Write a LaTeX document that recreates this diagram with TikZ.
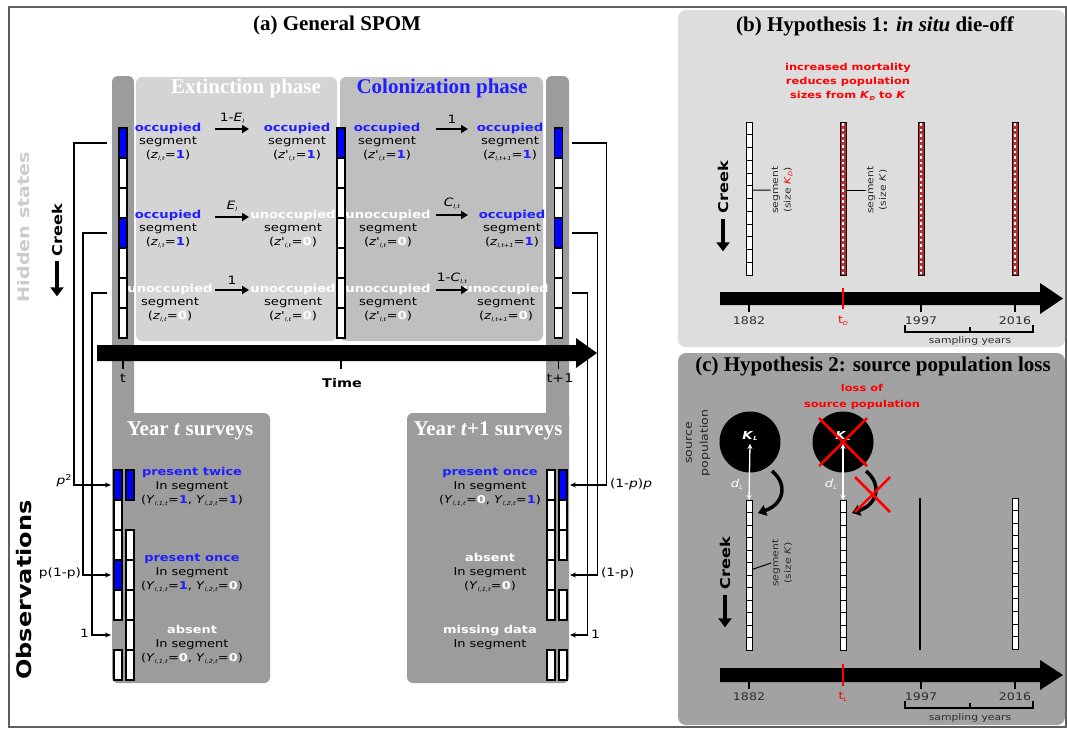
\documentclass[tikz,border=0pt]{standalone}
\usepackage{fontspec}
\setmainfont{Liberation Serif}
\newfontfamily\wsf[FakeStretch=1.2]{DejaVu Sans}
\usetikzlibrary{arrows.meta}
\definecolor{lgray}{RGB}{212,212,212}
\definecolor{mgray}{RGB}{191,191,191}
\definecolor{dgray}{RGB}{156,156,156}
\definecolor{pbgray}{RGB}{221,221,221}
\definecolor{pcgray}{RGB}{162,162,162}
\definecolor{hsgray}{RGB}{204,204,204}
\definecolor{myblue}{RGB}{30,30,255}
\definecolor{segred}{RGB}{185,45,45}
\definecolor{framegray}{RGB}{95,95,95}
\definecolor{txtgray}{RGB}{45,45,45}
\newcommand{\fsz}[1]{\fontsize{#1}{#1}\selectfont}
\newcommand{\subs}[1]{\raisebox{-1.8pt}{\fontsize{5.5}{5.5}\selectfont\textit{#1}}}
\newcommand{\vone}{\textcolor{myblue}{\textbf{1}}}
\newcommand{\vzero}{\textcolor{white}{\textbf{0}}}
\newcommand{\zlab}[3]{(\textit{z#1}\subs{#2}=#3)}
\newcommand{\ylab}[2]{\textit{Y}\subs{l,#1,t}=#2}
\newcommand{\occ}{\textcolor{myblue}{\textbf{occupied}}}
\newcommand{\unocc}{\textcolor{white}{\textbf{unoccupied}}}
\tikzset{
  every node/.style={inner sep=0pt, outer sep=0pt},
  ttl/.style={font=\bfseries\fsz{21}},
  stnode/.style={font=\wsf\fontsize{11}{13.5}\selectfont, align=center},
  obsnode/.style={font=\wsf\fontsize{10.8}{14}\selectfont, align=center},
  segbox/.style={draw, line width=1.1pt, minimum width=8pt, minimum height=30pt},
  smallseg/.style={draw, fill=white, line width=0.9pt, minimum width=6pt, minimum height=12.5pt},
  redcol/.style={draw, fill=segred, line width=0.9pt, minimum width=6pt, minimum height=153pt},
  tarrow/.style={line width=2.6pt, -{Triangle[length=7pt,width=8pt]}},
  arrlbl/.style={font=\wsf\fsz{11.5}},
  connarr/.style={line width=1.1pt, -{Stealth[length=6pt,width=5pt]}},
  plabel/.style={font=\wsf\fsz{11.5}},
  creek/.style={font=\wsf\bfseries\fsz{13.5}, rotate=90},
  creekarr/.style={line width=4.5pt, -{Triangle[length=9pt,width=13pt]}},
  axlbl/.style={font=\wsf\fsz{10.5}, text=txtgray},
  smalltxt/.style={font=\wsf\fontsize{9}{12.5}\selectfont, text=txtgray, align=center, rotate=90},
  redtxt/.style={font=\wsf\bfseries\fontsize{9.5}{14}\selectfont, text=red, align=center},
  curvarr/.style={line width=3.5pt, -{Triangle[length=8pt,width=11pt]}},
  tick/.style={line width=1.4pt},
}
\begin{document}
\begin{tikzpicture}[x=1pt,y=-1pt]
\useasboundingbox (0,0) rectangle (1067,729);
\fill[white] (0,0) rectangle (1067,729);
\draw[framegray, line width=1.5pt] (9,7) rectangle (1066,727);

% ---------------- panel a ----------------
\node[ttl] (ta) at (337,25) {(a) General SPOM};
\fill[dgray, rounded corners=6pt] (112,76) rectangle (134,430);
\fill[dgray, rounded corners=6pt] (112,413) rectangle (270,683);
\fill[dgray, rounded corners=6pt] (546,76) rectangle (569,430);
\fill[dgray, rounded corners=6pt] (407,413) rectangle (569,683);
\fill[lgray, rounded corners=6pt] (136,77) rectangle (337,341);
\fill[mgray, rounded corners=6pt] (340,77) rectangle (543,341);
\node[ttl, text=white] (tex) at (246,88) {Extinction phase};
\node[ttl, text=myblue] (tco) at (442,88) {Colonization phase};

\foreach \i/\f in {1/blue,2/white,3/white,4/blue,5/white,6/white,7/white}{
  \node[segbox, fill=\f] (ha\i) at (123,{113+30*\i}) {};
  \node[segbox, fill=\f] (hb\i) at (558.5,{113+30*\i}) {};
}
\foreach \i/\f in {1/blue,2/white,3/white,4/white,5/white,6/white,7/white}
  \node[segbox, fill=\f] (hm\i) at (341,{113+30*\i}) {};

% time axis
\fill (97,345) -- (576,345) -- (576,338) -- (597,353) -- (576,368) -- (576,361) -- (97,361) -- cycle;
\draw[tick] (123,361) -- (123,369);
\draw[tick] (341,361) -- (341,369);
\draw[tick] (558.5,361) -- (558.5,369);
\node[font=\wsf\fsz{12}] (lt) at (123,378) {t};
\node[font=\wsf\bfseries\fsz{12}] (ltime) at (342,383) {Time};
\node[font=\wsf\fsz{12}] (lt1) at (560,378) {t+1};

% states
\node[stnode] (ea1) at (168,142) {\occ\\segment\\\zlab{}{l,t}{\vone}};
\node[stnode] (eb1) at (297,142) {\occ\\segment\\\zlab{'}{l,t}{\vone}};
\node[stnode] (ca1) at (387,142) {\occ\\segment\\\zlab{'}{l,t}{\vone}};
\node[stnode] (cb1) at (510,142) {\occ\\segment\\\zlab{}{l,t+1}{\vone}};
\node[stnode] (ea2) at (168,229) {\occ\\segment\\\zlab{}{l,t}{\vone}};
\node[stnode] (eb2) at (293,229) {\unocc\\segment\\\zlab{'}{l,t}{\vzero}};
\node[stnode] (ca2) at (388,229) {\unocc\\segment\\\zlab{'}{l,t}{\vzero}};
\node[stnode] (cb2) at (512,229) {\occ\\segment\\\zlab{}{l,t+1}{\vone}};
\node[stnode] (ea3) at (170,303) {\unocc\\segment\\\zlab{}{l,t}{\vzero}};
\node[stnode] (eb3) at (293,303) {\unocc\\segment\\\zlab{'}{l,t}{\vzero}};
\node[stnode] (ca3) at (388,303) {\unocc\\segment\\\zlab{'}{l,t}{\vzero}};
\node[stnode] (cb3) at (506,303) {\unocc\\segment\\\zlab{}{l,t+1}{\vzero}};

\coordinate (x1s) at (215,129); \coordinate (x1e) at (249,129);
\coordinate (x2s) at (215,217); \coordinate (x2e) at (249,217);
\coordinate (x3s) at (215,290); \coordinate (x3e) at (249,290);
\coordinate (c1s) at (436,129); \coordinate (c1e) at (468,129);
\coordinate (c2s) at (436,215); \coordinate (c2e) at (468,215);
\coordinate (c3s) at (436,290); \coordinate (c3e) at (468,290);
\draw[tarrow] (x1s) -- (x1e) node[midway, above=6pt, arrlbl] (lx1) {1-\textit{E}\subs{l}};
\draw[tarrow] (x2s) -- (x2e) node[midway, above=6pt, arrlbl] (lx2) {\textit{E}\subs{l}};
\draw[tarrow] (x3s) -- (x3e) node[midway, above=6pt, arrlbl] (lx3) {1};
\draw[tarrow] (c1s) -- (c1e) node[midway, above=6pt, arrlbl] (lc1) {1};
\draw[tarrow] (c2s) -- (c2e) node[midway, above=6pt, arrlbl] (lc2) {\textit{C}\subs{l,t}};
\draw[tarrow] (c3s) -- (c3e) node[midway, above=6pt, arrlbl] (lc3) {1-\textit{C}\subs{l,t}};

% left labels
\node[font=\wsf\bfseries\fsz{16}, text=hsgray, rotate=90] (hs) at (24,227) {Hidden states};
\node[creek] (cra) at (57,230) {Creek};
\draw[creekarr] ([yshift=-5pt]cra.west) -- ([yshift=-40pt]cra.west);
\node[font=\wsf\bfseries\fsz{20}, rotate=90] (obs) at (24,590) {Observations};

% observations
\node[ttl, text=white] (yt) at (190,431) {Year \textit{t} surveys};
\node[ttl, text=white] (yt1) at (488,431) {Year \textit{t}+1 surveys};
\foreach \i/\f in {1/blue,2/white,3/white,4/blue,5/white,7/white}
  \node[segbox, fill=\f] (oa\i) at (118,{455+30*\i}) {};
\foreach \i/\f in {1/blue,3/white,4/white,5/white,6/white,7/white}
  \node[segbox, fill=\f] (ob\i) at (130,{455+30*\i}) {};
\foreach \i in {1,2,3,4,5,7}
  \node[segbox, fill=white] (oc\i) at (551,{455+30*\i}) {};
\foreach \i/\f in {1/blue,2/white,3/white,5/white,7/white}
  \node[segbox, fill=\f] (od\i) at (563,{455+30*\i}) {};

\node[obsnode] (o1) at (192,487) {\textcolor{myblue}{\textbf{present twice}}\\In segment\\(\ylab{1}{\vone}, \ylab{2}{\vone})};
\node[obsnode] (o2) at (192,573) {\textcolor{myblue}{\textbf{present once}}\\In segment\\(\ylab{1}{\vone}, \ylab{2}{\vzero})};
\node[obsnode] (o3) at (192,645) {\textcolor{white}{\textbf{absent}}\\In segment\\(\ylab{1}{\vzero}, \ylab{2}{\vzero})};
\node[obsnode] (o4) at (490,487) {\textcolor{myblue}{\textbf{present once}}\\In segment\\(\ylab{1}{\vzero}, \ylab{2}{\vone})};
\node[obsnode] (o5) at (490,573) {\textcolor{white}{\textbf{absent}}\\In segment\\(\ylab{1}{\vzero})};
\node[obsnode] (o6) at (490,638) {\textcolor{white}{\textbf{missing data}}\\In segment};

\coordinate (oa6w) at (114,635);
\coordinate (od4e) at (567,575);
\coordinate (od6e) at (567,635);
\draw[connarr, shorten >=3pt] ([xshift=-12pt]ha1.west) -- ++(-33,0) |- (oa1.west);
\draw[connarr, shorten >=3pt] ([xshift=-12pt]ha4.west) -- ++(-24,0) |- (oa4.west);
\draw[connarr, shorten >=3pt] ([xshift=-12pt]ha6.west) -- ++(-15,0) |- (oa6w);
\draw[connarr, shorten >=3pt] ([xshift=9pt]hb1.east) -- ++(35,0) |- (od1.east);
\draw[connarr, shorten >=3pt] ([xshift=9pt]hb4.east) -- ++(26,0) |- (od4e);
\draw[connarr, shorten >=3pt] ([xshift=9pt]hb6.east) -- ++(16,0) |- (od6e);

\node[plabel, anchor=east] (lp2) at (72,481) {\textit{p}\textsuperscript{2}};
\node[plabel, anchor=east] (lp1p) at (81,573) {p(1-p)};
\node[plabel, anchor=east] (l1a) at (89,633) {1};
\node[plabel, anchor=west] (l1pp) at (610,484) {(1-\textit{p})\textit{p}};
\node[plabel, anchor=west] (l1p) at (601,573) {(1-p)};
\node[plabel, anchor=west] (l1b) at (591,634) {1};

% ---------------- panel b ----------------
\fill[pbgray, rounded corners=8pt] (678,10) rectangle (1065,347);
\node[ttl] (tb) at (875,26) {(b) Hypothesis 1: \textit{in situ} die-off};
\node[redtxt] (rb) at (848,82) {increased mortality\\reduces population\\sizes from \textit{K}\subs{D} to \textit{K}};
\foreach \i in {1,...,12}
  \node[smallseg, minimum height=12.75pt] (bs\i) at (749,{122+12.75*(\i-0.5)}) {};
\node[redcol] (b2) at (843,198.5) {};
\node[redcol] (b3) at (921,198.5) {};
\node[redcol] (b4) at (1015,198.5) {};
\foreach \n in {b2,b3,b4}
  \draw[white, line width=1.4pt, dash pattern=on 2.5pt off 3pt] ([yshift=-1pt]\n.north) -- ([yshift=1pt]\n.south);
\node[smalltxt] (sb1) at (782,190) {segment\\(size \textcolor{red}{\textit{K}\subs{D}})};
\node[smalltxt] (sb2) at (877,190) {segment\\(size \textit{K})};
\draw[line width=1pt] ([yshift=2pt]bs6.east) -- ([xshift=-1pt]sb1.north);
\draw[line width=1pt] ([yshift=8.5pt]b2.east) -- ([xshift=-1pt]sb2.north);
\node[creek] (crb) at (723,187) {Creek};
\draw[creekarr] ([yshift=-6pt]crb.west) -- ([yshift=-38pt]crb.west);
\fill (720,292) -- (1040,292) -- (1040,283) -- (1063,298.5) -- (1040,314) -- (1040,305) -- (720,305) -- cycle;
\draw[red, line width=2.5pt] (843,288) -- (843,309);
\draw[tick] (749,305) -- (749,312);
\draw[tick] (921,305) -- (921,312);
\draw[tick] (1015,305) -- (1015,312);
\node[axlbl] (yb1) at (749,321) {1882};
\node[axlbl, text=red] (yb2) at (843,321) {t\subs{D}};
\node[axlbl] (yb3) at (921,321) {1997};
\node[axlbl] (yb4) at (1015,321) {2016};
\draw[line width=1.2pt] (905,325) -- (905,332) -- (1033,332) -- (1033,325);
\draw[line width=1.2pt] (970,332) -- (970,327);
\node[font=\wsf\fsz{9}, text=txtgray] (sy1) at (970,341) {sampling years};

% ---------------- panel c ----------------
\fill[pcgray, rounded corners=8pt] (678,353) rectangle (1065,725);
\node[ttl] (tc) at (873,366) {(c) Hypothesis 2: source population loss};
\node[redtxt, font=\wsf\bfseries\fontsize{9.5}{16}\selectfont] (rc) at (862,397) {loss of\\source population};
\node[smalltxt, text=black!85, font=\wsf\fontsize{10.5}{16}\selectfont] (srcp) at (698,443) {source\\population};
\node[circle, fill=black, minimum size=61pt] (cir1) at (750,442) {};
\node[circle, fill=black, minimum size=61pt] (cir2) at (843,442) {};
\node[font=\wsf\bfseries\fsz{11}, text=white] (kl1) at (750,436) {\textit{K}\subs{L}};
\node[font=\wsf\bfseries\fsz{11}, text=white] (kl2) at (843,436) {\textit{K}\subs{L}};
\foreach \i in {1,...,12}{
  \node[smallseg] (cs\i) at (749,{500+12.5*(\i-0.5)}) {};
  \node[smallseg] (ds\i) at (843,{500+12.5*(\i-0.5)}) {};
  \node[smallseg] (fs\i) at (1015,{498+12.6*(\i-0.5)}) {};
}
\coordinate (g3t) at (920,498); \coordinate (g3b) at (920,650);
\draw[line width=2.5pt] (g3t) -- (g3b);
\draw[white, line width=1.3pt, {Stealth[length=5pt,width=5pt]}-{Stealth[length=5pt,width=5pt]}] ([yshift=-3pt]kl1.south) -- (cs1.north);
\draw[white, line width=1.3pt, {Stealth[length=5pt,width=5pt]}-{Stealth[length=5pt,width=5pt]}] ([yshift=-3pt]kl2.south) -- (ds1.north);
\draw[red, line width=2.5pt] ([shift={(-24pt,24pt)}]cir2.center) -- ([shift={(24pt,-24pt)}]cir2.center);
\draw[red, line width=2.5pt] ([shift={(24pt,24pt)}]cir2.center) -- ([shift={(-24pt,-24pt)}]cir2.center);
\node[font=\wsf\fsz{11}, text=white] (dl1) at (737,484) {\textit{d}\subs{L}};
\node[font=\wsf\fsz{11}, text=white] (dl2) at (831,484) {\textit{d}\subs{L}};
\coordinate (ca1s) at (772,471); \coordinate (ca1e) at (758,513);
\coordinate (ca2s) at (866,471); \coordinate (ca2e) at (852,513);
\draw[curvarr] (ca1s) .. controls (788,484) and (784,504) .. (ca1e);
\draw[curvarr] (ca2s) .. controls (882,484) and (878,504) .. (ca2e);
\draw[red, line width=2.5pt] (855,477) -- (890,512);
\draw[red, line width=2.5pt] (890,477) -- (855,512);
\node[smalltxt] (sc1) at (782,563) {segment\\(size \textit{K})};
\draw[line width=1pt] ([yshift=-0.75pt]cs6.east) -- ([xshift=-1pt]sc1.north);
\node[creek] (crc) at (725,563) {Creek};
\draw[creekarr] ([yshift=-6pt]crc.west) -- ([yshift=-38pt]crc.west);
\fill (720,668) -- (1040,668) -- (1040,660) -- (1063,675) -- (1040,690) -- (1040,682) -- (720,682) -- cycle;
\draw[red, line width=2.5pt] (843,664) -- (843,686);
\draw[tick] (749,682) -- (749,689);
\draw[tick] (921,682) -- (921,689);
\draw[tick] (1015,682) -- (1015,689);
\node[axlbl] (yc1) at (749,697) {1882};
\node[axlbl, text=red] (yc2) at (843,697) {t\subs{L}};
\node[axlbl] (yc3) at (921,697) {1997};
\node[axlbl] (yc4) at (1015,697) {2016};
\draw[line width=1.2pt] (905,701) -- (905,708) -- (1033,708) -- (1033,701);
\draw[line width=1.2pt] (970,708) -- (970,703);
\node[font=\wsf\fsz{9}, text=txtgray] (sy2) at (970,718) {sampling years};
\end{tikzpicture}
\end{document}
